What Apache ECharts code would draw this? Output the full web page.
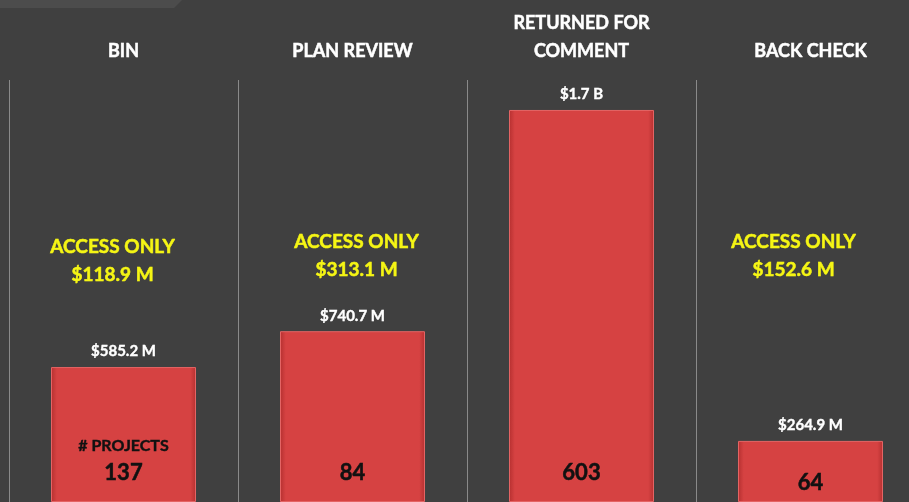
<!DOCTYPE html>
<html>
<head>
<meta charset="utf-8">
<script src="https://cdn.jsdelivr.net/npm/echarts@6/dist/echarts.min.js"></script>
<style>
  html, body { margin: 0; padding: 0; background: #404040; }
  #chart { width: 909px; height: 502px; }
</style>
</head>
<body>
<div id="chart"></div>
<script>
// stages across the top
const stages = ['BIN', 'PLAN REVIEW', 'RETURNED FOR\nCOMMENT', 'BACK CHECK']
// total value per stage, in millions of dollars
const stageValues = [585.2, 740.7, 1700, 264.9]
// number of projects per stage
const projectCounts = [137, 84, 603, 64]
// access-only value per stage, in millions
const accessOnly = [118.9, 313.1, 480.2, 152.6]

const fontFam = 'Lato, "Open Sans", sans-serif'
const redBar = new echarts.graphic.LinearGradient(0, 0, 1, 0, [
  { offset: 0, color: '#b53030' },
  { offset: 0.04, color: '#d64242' },
  { offset: 0.96, color: '#d64242' },
  { offset: 1, color: '#b53030' }
])

function money(v) {
  if (v >= 1000) return '$' + (v / 1000).toFixed(1) + ' B'
  return '$' + v.toFixed(1) + ' M'
}

const chart = echarts.init(document.getElementById('chart'))

const option = {
  backgroundColor: '#404040',
  animation: false,
  grid: { left: 9, width: 916, top: 80, bottom: 0, containLabel: false, outerBoundsMode: 'none' },
  xAxis: {
    type: 'category',
    position: 'top',
    data: stages,
    axisLine: { show: false },
    axisTick: { show: false },
    splitLine: { show: true, lineStyle: { color: '#8a8a8a', width: 1 } },
    axisLabel: {
      interval: 0,
      margin: 15,
      color: '#ffffff',
      fontFamily: fontFam,
      fontWeight: 'bold',
      fontSize: 18,
      lineHeight: 28,
      textBorderColor: '#ffffff',
      textBorderWidth: 0.5
    }
  },
  yAxis: {
    type: 'value',
    min: 0,
    max: 1830,
    show: false,
    splitLine: { show: false }
  },
  series: [
    {
      type: 'bar',
      barWidth: 145,
      data: stageValues,
      itemStyle: {
        color: redBar,
        borderColor: '#e46464',
        borderWidth: 1
      },
      label: {
        show: true,
        position: 'top',
        distance: 8,
        color: '#ffffff',
        fontFamily: fontFam,
        fontWeight: 'bold',
        fontSize: 15,
        textBorderColor: '#ffffff',
        textBorderWidth: 0.4,
        formatter: p => money(p.value)
      }
    },
    {
      type: 'bar',
      barWidth: 145,
      barGap: '-100%',
      silent: true,
      data: stageValues.map((v, i) => ({
        value: v,
        label: { distance: i === 3 ? 6 : 16 }
      })),
      itemStyle: { color: 'transparent' },
      label: {
        show: true,
        position: 'insideBottom',
        color: '#111111',
        fontFamily: fontFam,
        fontWeight: 'bold',
        formatter: p => p.dataIndex === 0
          ? '{h|# PROJECTS}\n{n|' + projectCounts[p.dataIndex] + '}'
          : '{n|' + projectCounts[p.dataIndex] + '}',
        rich: {
          h: { fontSize: 16, fontWeight: 'bold', fontFamily: fontFam, color: '#111111', lineHeight: 28,
               textBorderColor: '#111111', textBorderWidth: 0.4 },
          n: { fontSize: 22, fontWeight: 'bold', fontFamily: fontFam, color: '#111111', lineHeight: 26,
               textBorderColor: '#111111', textBorderWidth: 0.5 }
        }
      }
    }
  ]
}
chart.setOption(option)

// "ACCESS ONLY" notes above each bar, placed from the category axis
const noteShiftX = [-11, 4, -3, -17]
const noteTopY = [247, 242, 242, 242]
const notes = stages.map((s, i) => ({
  type: 'text',
  x: chart.convertToPixel({ xAxisIndex: 0 }, s) + noteShiftX[i],
  y: noteTopY[i] + 14,
  silent: true,
  style: {
    text: 'ACCESS ONLY\n' + money(accessOnly[i]),
    fill: '#f5f514',
    stroke: '#f5f514',
    lineWidth: 0.5,
    font: 'bold 19px ' + fontFam,
    align: 'center',
    verticalAlign: 'middle',
    lineHeight: 28
  }
}))

chart.setOption({
  graphic: [
    {
      type: 'polygon',
      shape: { points: [[0, 0], [182, 0], [174, 8], [0, 8]] },
      style: { fill: '#4c4c4c' },
      silent: true
    }
  ].concat(notes)
})
</script>
</body>
</html>
